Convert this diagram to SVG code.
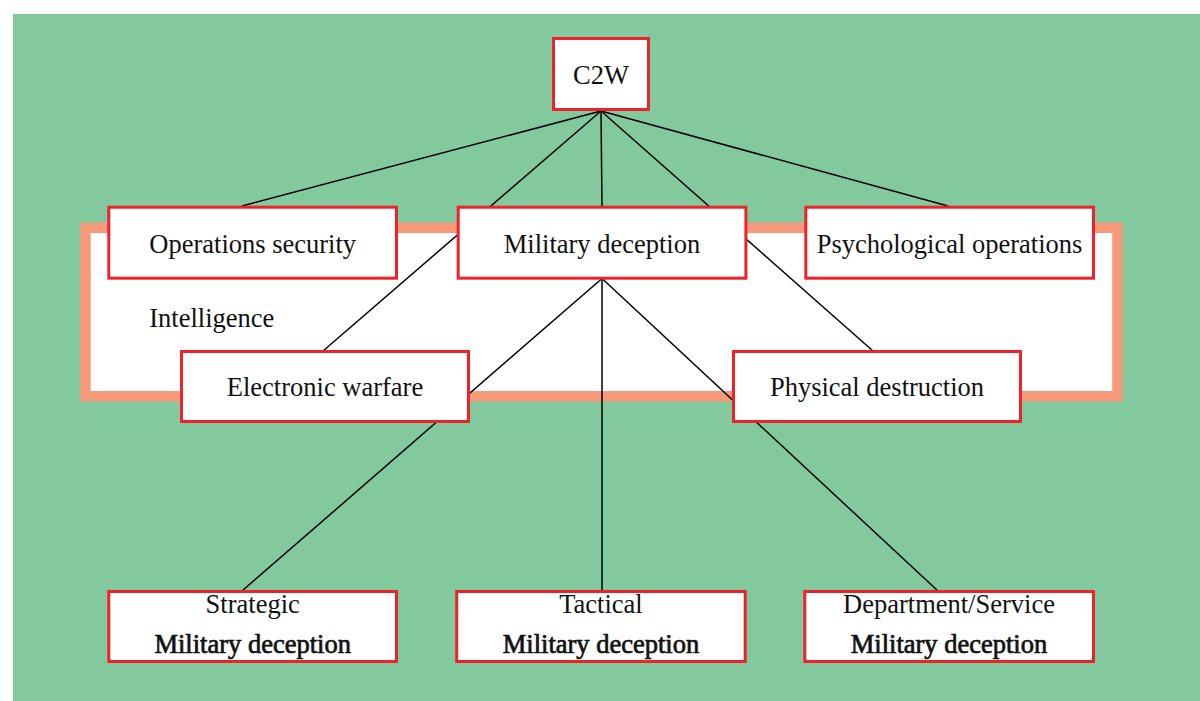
<svg xmlns="http://www.w3.org/2000/svg" width="1200" height="701" viewBox="0 0 1200 701">
  <style>
    .box { fill: #ffffff; stroke: #ee2229; stroke-width: 3; }
    .lbl { font-family: "Liberation Serif", "Times New Roman", serif; font-size: 26.5px; fill: #111111; text-anchor: middle; }
    .strong { stroke: #111111; stroke-width: 0.7; }
    .edge { stroke: #000000; stroke-width: 1.5; fill: none; }
  </style>

  <!-- background -->
  <rect x="0" y="0" width="1200" height="701" fill="#ffffff"/>
  <rect x="13" y="14" width="1187" height="687" fill="#82ca9d"/>

  <!-- intelligence frame -->
  <g id="intelligence">
    <rect x="85.5" y="227.8" width="1032" height="168.5" fill="#ffffff" stroke="#f7997b" stroke-width="10.5"/>
    <text class="lbl" x="149.3" y="326.7" style="text-anchor:start">Intelligence</text>
  </g>

  <!-- connectors -->
  <g id="connectors">
    <line class="edge" x1="601" y1="111" x2="242" y2="206"/>
    <line class="edge" x1="601" y1="111" x2="323" y2="351"/>
    <line class="edge" x1="601" y1="111" x2="602" y2="206"/>
    <line class="edge" x1="601" y1="111" x2="873" y2="351"/>
    <line class="edge" x1="601" y1="111" x2="948" y2="206"/>
    <line class="edge" x1="602" y1="278.5" x2="242" y2="591"/>
    <line class="edge" x1="602" y1="278.5" x2="602" y2="591"/>
    <line class="edge" x1="602" y1="278.5" x2="938" y2="591"/>
  </g>

  <g id="c2w">
    <rect class="box" x="553.5" y="38.5" width="95" height="71"/>
    <text class="lbl" x="601" y="84.3">C2W</text>
  </g>

  <g id="operations-security">
    <rect class="box" x="108.8" y="207.2" width="287.7" height="71"/>
    <text class="lbl" x="252.7" y="252.8">Operations security</text>
  </g>

  <g id="military-deception">
    <rect class="box" x="458.2" y="207.2" width="287.7" height="71"/>
    <text class="lbl" x="602" y="252.8">Military deception</text>
  </g>

  <g id="psychological-operations">
    <rect class="box" x="805.8" y="207.2" width="287.7" height="71"/>
    <text class="lbl" x="949.5" y="252.8">Psychological operations</text>
  </g>

  <g id="electronic-warfare">
    <rect class="box" x="181.5" y="351.5" width="287" height="70"/>
    <text class="lbl" x="325" y="395.5">Electronic warfare</text>
  </g>

  <g id="physical-destruction">
    <rect class="box" x="733.5" y="351.5" width="287" height="70"/>
    <text class="lbl" x="877" y="395.5">Physical destruction</text>
  </g>

  <g id="strategic">
    <rect class="box" x="108.8" y="591.5" width="287.7" height="70"/>
    <text class="lbl" x="252.7" y="613.3">Strategic</text>
    <text class="lbl strong" x="252.7" y="652.7">Military deception</text>
  </g>

  <g id="tactical">
    <rect class="box" x="456.7" y="591.5" width="288.5" height="70"/>
    <text class="lbl" x="601" y="613.3">Tactical</text>
    <text class="lbl strong" x="601" y="652.7">Military deception</text>
  </g>

  <g id="department-service">
    <rect class="box" x="804.8" y="591.5" width="288.7" height="70"/>
    <text class="lbl" x="949" y="613.3">Department/Service</text>
    <text class="lbl strong" x="949" y="652.7">Military deception</text>
  </g>
</svg>
